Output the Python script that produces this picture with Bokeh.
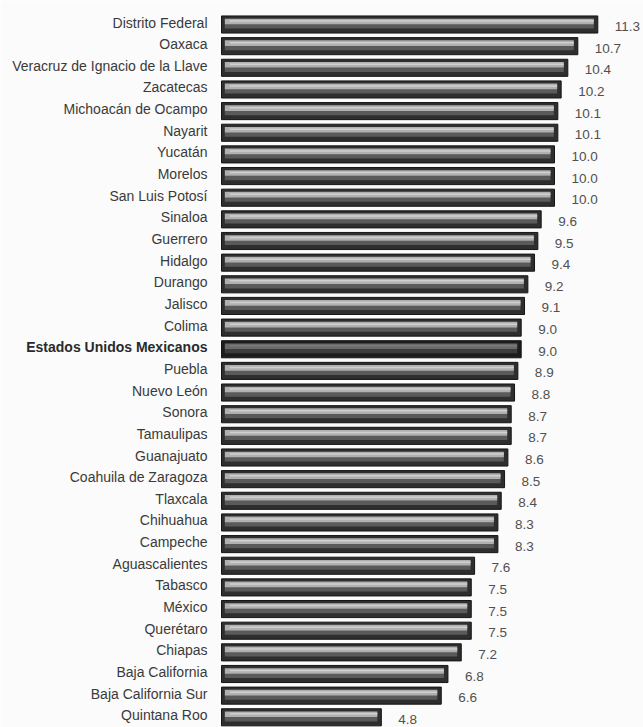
from bokeh.plotting import figure
from bokeh.models import Range1d, ColumnDataSource
from bokeh.core.properties import value
from bokeh.embed import file_html
from bokeh.resources import INLINE

estados = [
    "Distrito Federal", "Oaxaca", "Veracruz de Ignacio de la Llave", "Zacatecas",
    "Michoacán de Ocampo", "Nayarit", "Yucatán", "Morelos", "San Luis Potosí",
    "Sinaloa", "Guerrero", "Hidalgo", "Durango", "Jalisco", "Colima",
    "Estados Unidos Mexicanos", "Puebla", "Nuevo León", "Sonora", "Tamaulipas",
    "Guanajuato", "Coahuila de Zaragoza", "Tlaxcala", "Chihuahua", "Campeche",
    "Aguascalientes", "Tabasco", "México", "Querétaro", "Chiapas",
    "Baja California", "Baja California Sur", "Quintana Roo",
]
valores = [
    11.3, 10.7, 10.4, 10.2, 10.1, 10.1, 10.0, 10.0, 10.0,
    9.6, 9.5, 9.4, 9.2, 9.1, 9.0,
    9.0, 8.9, 8.8, 8.7, 8.7,
    8.6, 8.5, 8.4, 8.3, 8.3,
    7.6, 7.5, 7.5, 7.5, 7.2,
    6.8, 6.6, 4.8,
]
etiquetas = [f"{v:.1f}" for v in valores]
nacional = "Estados Unidos Mexicanos"

n = len(estados)
idx = list(range(n))
is_nat = [e == nacional for e in estados]

W, H = 643, 727
zero_px = 221.0
scale = 33.3
row = 21.65
first = 24.0

x0 = -zero_px / scale
x1 = (W - zero_px) / scale
ytop = -first / row
ybot = (H - first) / row

p = figure(width=W, height=H, output_backend="svg", toolbar_location=None,
           x_range=Range1d(x0, x1), y_range=Range1d(ybot, ytop),
           min_border=0, min_border_left=0, min_border_right=0,
           min_border_top=0, min_border_bottom=0)
p.axis.visible = False
p.grid.visible = False
p.outline_line_color = None
p.background_fill_color = "#fbfbfb"
p.border_fill_color = "#fbfbfb"

bh = 0.79
src = ColumnDataSource(dict(
    y=idx, v=valores, lab=etiquetas, est=estados,
    base=["#1c1c1c" if k else "#2e2e2e" for k in is_nat],
    mid=["#3c3c3c" if k else "#5a5a5a" for k in is_nat],
    light=["#6a6a6a" if k else "#b0b0b0" for k in is_nat],
    hi=["#7a7a7a" if k else "#d0d0d0" for k in is_nat],
    rin=[v - 0.12 for v in valores],
    y_mid=[i + 0.08 for i in idx],
    y_light=[i - 0.14 for i in idx],
    y_hi=[i - 0.16 for i in idx],
))

p.hbar(y="y", left=0, right="v", height=bh, source=src,
       fill_color="base", line_color="#151515", line_width=1)
p.hbar(y="y_mid", left=0.1, right="rin", height=0.22, source=src,
       fill_color="mid", line_color=None)
p.hbar(y="y_light", left=0.1, right="rin", height=0.26, source=src,
       fill_color="light", line_color=None)
p.hbar(y="y_hi", left=0.25, right="rin", height=0.07, source=src,
       fill_color="hi", line_color=None)

# value labels
p.text(x="v", y="y", text="lab", source=src, x_offset=17, y_offset=2,
       text_align="left", text_baseline="middle",
       text_font=value("Liberation Sans"), text_font_size="13.5px",
       text_color="#505050")

# category labels
reg = ColumnDataSource(dict(
    y=[i for i, k in zip(idx, is_nat) if not k],
    t=[e for e, k in zip(estados, is_nat) if not k],
))
nat = ColumnDataSource(dict(
    y=[i for i, k in zip(idx, is_nat) if k],
    t=[e for e, k in zip(estados, is_nat) if k],
))
p.text(x=0, y="y", text="t", source=reg, x_offset=-14, y_offset=-2,
       text_align="right", text_baseline="middle",
       text_font=value("Liberation Sans"), text_font_size="14px",
       text_color="#3a3a3a")
p.text(x=0, y="y", text="t", source=nat, x_offset=-14, y_offset=-2,
       text_align="right", text_baseline="middle",
       text_font=value("Liberation Sans"), text_font_size="14px",
       text_font_style="bold", text_color="#2a2a2a")

open("out.html", "w").write(file_html(p, INLINE))
